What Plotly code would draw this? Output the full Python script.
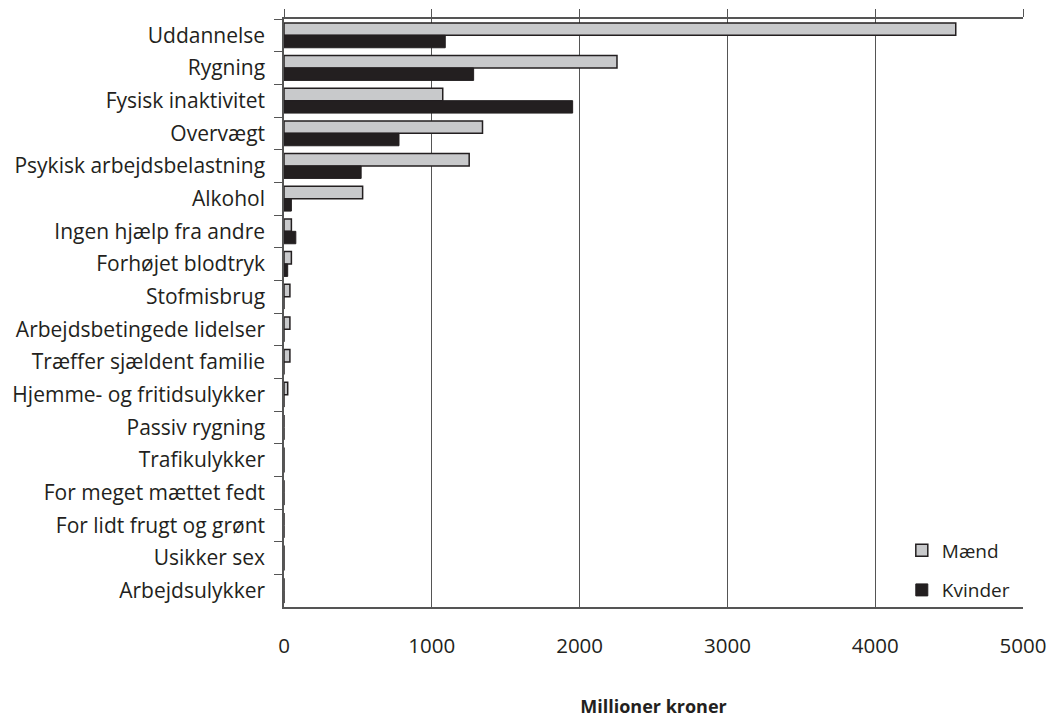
import plotly.graph_objects as go

categories = [
    "Uddannelse", "Rygning", "Fysisk inaktivitet", "Overvægt",
    "Psykisk arbejdsbelastning", "Alkohol", "Ingen hjælp fra andre",
    "Forhøjet blodtryk", "Stofmisbrug", "Arbejdsbetingede lidelser",
    "Træffer sjældent familie", "Hjemme- og fritidsulykker",
    "Passiv rygning", "Trafikulykker", "For meget mættet fedt",
    "For lidt frugt og grønt", "Usikker sex", "Arbejdsulykker",
]
maend = [4545, 2253, 1074, 1343, 1253, 532, 50, 50, 40, 40, 40, 25, 0, 0, 0, 0, 0, 0]
kvinder = [1091, 1283, 1953, 778, 522, 50, 80, 25, 0, 0, 0, 0, 0, 0, 0, 0, 0, 0]
x_ticks = [0, 1000, 2000, 3000, 4000, 5000]

FONT = "Open Sans"
DARK = "#231f20"
LINE = "#555555"

fig = go.Figure()
fig.add_trace(go.Bar(
    y=categories, x=maend, orientation="h", name="Mænd", legendgroup="m",
    marker=dict(color="#c8c9cb", line=dict(color=DARK, width=1.5)),
))
fig.add_trace(go.Bar(
    y=categories, x=kvinder, orientation="h", name="Kvinder", legendgroup="k",
    marker=dict(color=DARK, line=dict(color=DARK, width=1)),
))
# invisible trace to carry the top axis
fig.add_trace(go.Scatter(x=[0], y=[categories[0]], xaxis="x2", mode="markers",
                         marker=dict(opacity=0), showlegend=False, hoverinfo="skip"))

fig.update_layout(
    width=1049, height=718,
    margin=dict(l=284, r=26, t=19, b=111, autoexpand=False),
    paper_bgcolor="white", plot_bgcolor="white",
    barmode="group", bargap=0.24, bargroupgap=0,
    font=dict(family=FONT, size=20, color=DARK),
    xaxis=dict(
        range=[0, 5000], tickvals=x_ticks, ticktext=[str(v) for v in x_ticks],
        showgrid=True, gridcolor=LINE, gridwidth=1,
        showline=True, linecolor=LINE, linewidth=1.5,
        ticks="", ticklabelstandoff=20, zeroline=False, automargin=False,
        tickfont=dict(family=FONT, size=20.5, color=DARK),
        title=dict(text="<b>Millioner kroner</b>", standoff=47,
                   font=dict(family=FONT, size=18, color=DARK)),
    ),
    xaxis2=dict(
        range=[0, 5000], tickvals=x_ticks, overlaying="x", side="top",
        anchor="y", showgrid=False, showline=True, linecolor=LINE,
        linewidth=1.5, ticks="outside", ticklen=8, tickcolor=LINE,
        showticklabels=False, zeroline=False, automargin=False,
    ),
    yaxis=dict(
        range=[17.5, -0.5], showline=True, linecolor=LINE, linewidth=1.5,
        ticks="outside", ticklen=8, tickcolor=LINE, tickson="boundaries",
        showgrid=False, ticklabelstandoff=13, automargin=False,
        tickfont=dict(family=FONT, size=21, color=DARK),
    ),
    legend=dict(
        x=0.836, y=-0.004, xanchor="left", yanchor="bottom",
        bgcolor="rgba(0,0,0,0)", font=dict(family=FONT, size=19, color=DARK),
        tracegroupgap=12, itemwidth=30,
    ),
    showlegend=True,
)

fig.write_html(
    "out.html",
    config={"displayModeBar": False},
    post_script="document.body.style.margin='0';document.body.style.overflow='hidden';",
)
